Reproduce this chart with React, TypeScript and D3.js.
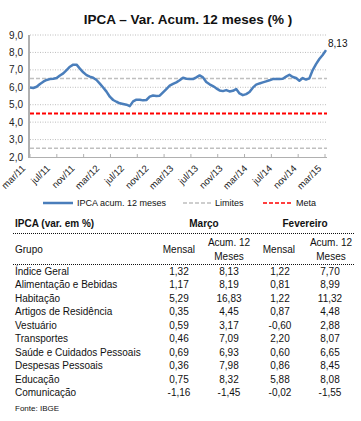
import React from 'react';
import * as d3 from 'd3';

// IPCA acumulado em 12 meses (mar/11 a mar/15)
const ipca = [
  5.99, 5.96, 6.03, 6.19, 6.32, 6.42, 6.47, 6.49, 6.53, 6.68,
  6.80, 6.99, 7.18, 7.30, 7.30, 7.07, 6.86, 6.70, 6.61, 6.55,
  6.42, 6.21, 5.99, 5.75, 5.46, 5.27, 5.17, 5.08, 5.04, 5.00,
  4.92, 5.19, 5.29, 5.29, 5.25, 5.27, 5.46, 5.53, 5.50, 5.52,
  5.71, 5.90, 6.09, 6.19, 6.28, 6.40, 6.55, 6.49, 6.47, 6.47,
  6.57, 6.68, 6.57, 6.30, 6.17, 6.07, 5.94, 5.82, 5.78, 5.84,
  5.76, 5.80, 5.90, 5.65, 5.55, 5.61, 5.73, 5.98, 6.15, 6.22,
  6.28, 6.34, 6.40, 6.47, 6.47, 6.47, 6.49, 6.61, 6.72, 6.59,
  6.53, 6.38, 6.53, 6.44, 6.51, 6.99, 7.33, 7.62, 7.85, 8.13,
];
const ultimoValor = '8,13';

const mesLabels = ['mar/11', 'jul/11', 'nov/11', 'mar/12', 'jul/12', 'nov/12', 'mar/13',
  'jul/13', 'nov/13', 'mar/14', 'jul/14', 'nov/14', 'mar/15'];

const limites = [6.5, 2.5];
const meta = 4.5;

// tabela
const grupos = ['Índice Geral', 'Alimentação e Bebidas', 'Habitação', 'Artigos de Residência',
  'Vestuário', 'Transportes', 'Saúde e Cuidados Pessoais', 'Despesas Pessoais', 'Educação', 'Comunicação'];
const marcoMensal = ['1,32', '1,17', '5,29', '0,35', '0,59', '0,46', '0,69', '0,36', '0,75', '-1,16'];
const marcoAcum = ['8,13', '8,19', '16,83', '4,45', '3,17', '7,09', '6,93', '7,98', '8,32', '-1,45'];
const fevMensal = ['1,22', '0,81', '1,22', '0,87', '-0,60', '2,20', '0,60', '0,86', '5,88', '-0,02'];
const fevAcum = ['7,70', '8,99', '11,32', '4,48', '2,88', '8,07', '6,65', '8,45', '8,08', '-1,55'];

const W = 361;
const H = 421;
const font = 'Arial, "Liberation Sans", sans-serif';

const App = () => {
  const left = 30, right = 326;
  const y = d3.scaleLinear().domain([2, 9]).range([157, 35]);
  const xData = d3.scaleLinear().domain([0, ipca.length - 1]).range([left, right]);
  const xMes = d3.scaleLinear().domain([0, mesLabels.length - 1]).range([left, right]);
  const xTick = d3.scaleLinear().domain([0, 11]).range([left, 325]);
  const fmt = (v: number) => d3.format('.1f')(v).replace('.', ',');

  const line = d3.line<number>().x((d, i) => xData(i)).y(d => y(d));

  const rowY = (i: number) => 275 + i * 13.45;
  const cols = [179, 229, 280, 330];

  return (
    <svg width={W} height={H} style={{ position: 'absolute', left: 0, top: 0, background: '#fff' }}
      fontFamily={font}>
      <text x={188} y={24} textAnchor="middle" fontSize={13.5} fontWeight="bold" fill="#111">
        IPCA – Var. Acum. 12 meses (% )
      </text>

      {/* grade */}
      {d3.range(3, 10).map(v => (
        <line key={v} x1={left} x2={327} y1={y(v)} y2={y(v)} stroke="#bdbdbd" strokeDasharray="1,1.5" />
      ))}
      {d3.range(2, 10).map(v => (
        <text key={v} x={23} y={y(v) + 3.5} textAnchor="end" fontSize={10} fill="#222">{fmt(v)}</text>
      ))}

      {limites.map(v => (
        <line key={v} x1={left} x2={327} y1={y(v)} y2={y(v)} stroke="#bfbfbf" strokeWidth={1.5} strokeDasharray="4,2" />
      ))}
      <line x1={left} x2={327} y1={y(meta)} y2={y(meta)} stroke="#ff0000" strokeWidth={2} strokeDasharray="4,2" />

      {/* eixos */}
      <line x1={left - 1} x2={left - 1} y1={35} y2={158} stroke="#b0b0b0" strokeWidth={2} />
      <line x1={left} x2={327} y1={157.5} y2={157.5} stroke="#b0b0b0" strokeWidth={1} />
      {d3.range(12).map(i => (
        <line key={i} x1={xTick(i)} x2={xTick(i)} y1={154} y2={157.5} stroke="#b0b0b0" />
      ))}
      {mesLabels.map((m, i) => (
        <text key={m} transform={`translate(${xMes(i) - 4},${169}) rotate(-45)`} textAnchor="end"
          fontSize={9.5} fill="#222">{m}</text>
      ))}

      <path d={line(ipca) || ''} fill="none" stroke="#4a7ebb" strokeWidth={2.5} strokeLinejoin="round" />
      <text x={xData(ipca.length - 1) + 2} y={y(ipca[ipca.length - 1]) - 3} fontSize={10} fill="#111">{ultimoValor}</text>

      {/* legenda */}
      <line x1={43} x2={73} y1={203} y2={203} stroke="#4a7ebb" strokeWidth={2.5} />
      <text x={77} y={206} fontSize={9} fill="#111">IPCA acum. 12 meses</text>
      <line x1={183} x2={213} y1={203} y2={203} stroke="#bfbfbf" strokeWidth={1.5} strokeDasharray="4,2" />
      <text x={215} y={206} fontSize={9} fill="#111">Limites</text>
      <line x1={263} x2={293} y1={203} y2={203} stroke="#ff0000" strokeWidth={1.5} strokeDasharray="4,2" />
      <text x={296} y={206} fontSize={9} fill="#111">Meta</text>

      {/* tabela */}
      <g fontSize={10} fill="#111">
        <text x={15} y={227} fontWeight="bold">IPCA (var. em %)</text>
        <text x={204} y={227} fontWeight="bold" textAnchor="middle">Março</text>
        <text x={305} y={227} fontWeight="bold" textAnchor="middle">Fevereiro</text>
        <line x1={13} x2={355} y1={233.5} y2={233.5} stroke="#111" strokeDasharray="1,1" />
        <text x={15} y={252.5}>Grupo</text>
        <text x={195} y={252.5} textAnchor="end">Mensal</text>
        <text x={229} y={246} textAnchor="middle">Acum. 12</text>
        <text x={229} y={259.5} textAnchor="middle">Meses</text>
        <text x={295} y={252.5} textAnchor="end">Mensal</text>
        <text x={331} y={246} textAnchor="middle">Acum. 12</text>
        <text x={331} y={259.5} textAnchor="middle">Meses</text>
        <line x1={13} x2={355} y1={264.5} y2={264.5} stroke="#111" strokeDasharray="1,1" />
        {grupos.map((g, i) => (
          <g key={g}>
            <text x={15} y={rowY(i)}>{g}</text>
            {[marcoMensal, marcoAcum, fevMensal, fevAcum].map((col, j) => (
              <text key={j} x={cols[j]} y={rowY(i)} textAnchor="middle">{col[i]}</text>
            ))}
          </g>
        ))}
        <text x={15} y={411} fontSize={8}>Fonte: IBGE</text>
      </g>
    </svg>
  );
};

export default App;
